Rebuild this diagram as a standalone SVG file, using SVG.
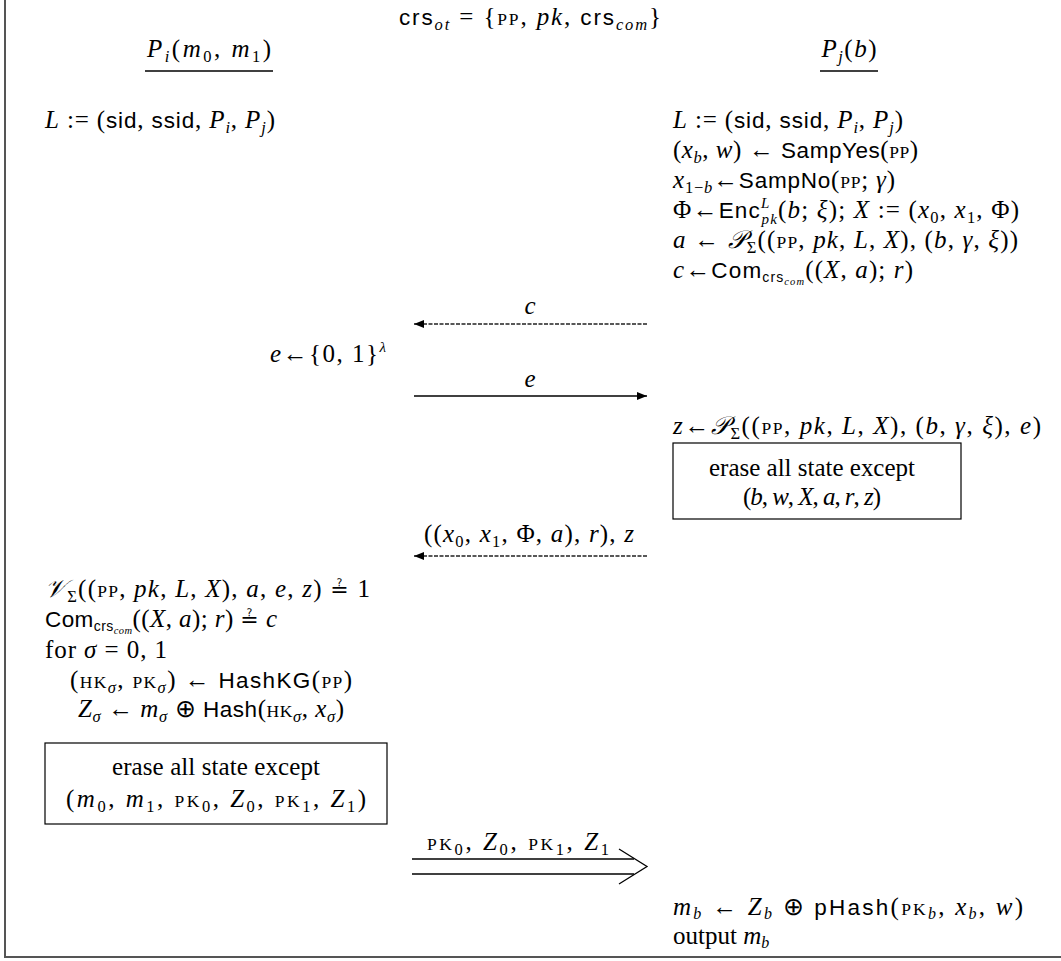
<svg xmlns="http://www.w3.org/2000/svg" width="1061" height="961" viewBox="0 0 1061 961">
<style>
.m{font-family:"Liberation Serif",serif;font-size:25px;fill:#000}
.i{font-style:italic}
.sf{font-family:"Liberation Sans",sans-serif;font-size:22.5px;font-style:normal}
.sc{font-size:17.5px}
.sub{font-size:16.5px;baseline-shift:-5px}
.sbs{font-size:16px;baseline-shift:-4px}
.sup{font-size:15px;baseline-shift:10px}
.sub2{font-size:15px;baseline-shift:-6px}
.csub{font-family:"Liberation Sans",sans-serif;font-size:14px;baseline-shift:-4px}
.ccom{font-size:10.5px;font-style:italic;baseline-shift:-6.5px}
.qe{font-family:"DejaVu Sans",sans-serif;font-size:22px}
.cal{font-family:"DejaVu Serif",serif;font-style:italic}
.ln{stroke:#000;stroke-width:1.3;fill:none}
.dash{stroke:#222;stroke-width:1.3;stroke-dasharray:4 1.5;fill:none}
.box{stroke:#000;stroke-width:1.2;fill:none}
</style>
<defs>
<marker id="ah" viewBox="0 0 10 8" refX="10" refY="4" markerWidth="10" markerHeight="8" markerUnits="userSpaceOnUse" orient="auto">
<path d="M0,0 L10,4 L0,8 Z" fill="#000"/>
</marker>
</defs>

<g id="frame">
<line x1="5" y1="0" x2="5" y2="958" stroke="#555" stroke-width="2"/>
<line x1="4" y1="957" x2="1061" y2="957" stroke="#555" stroke-width="2"/>
</g>

<g id="title">
<text class="m" x="530" y="25" text-anchor="middle" textLength="262" lengthAdjust="spacing"><tspan class="sf">crs</tspan><tspan class="i sub">ot</tspan> = {<tspan class="sc">PP</tspan>, <tspan class="i">pk</tspan>, <tspan class="sf">crs</tspan><tspan class="i sub">com</tspan>}</text>
</g>

<g id="party-i">
<text class="m" x="209" y="57" text-anchor="middle" textLength="124" lengthAdjust="spacing"><tspan class="i">P</tspan><tspan class="i sub">i</tspan>(<tspan class="i">m</tspan><tspan class="sub">0</tspan>, <tspan class="i">m</tspan><tspan class="sub">1</tspan>)</text>
<line x1="145" y1="71" x2="273" y2="71" class="ln"/>
</g>

<g id="party-j">
<text class="m" x="849" y="57" text-anchor="middle" textLength="55" lengthAdjust="spacing"><tspan class="i">P</tspan><tspan class="i sub">j</tspan>(<tspan class="i">b</tspan>)</text>
<line x1="820" y1="71" x2="878" y2="71" class="ln"/>
</g>

<g id="left-init">
<text class="m" x="45" y="128" textLength="230" lengthAdjust="spacing"><tspan class="i">L</tspan> := (<tspan class="sf">sid</tspan>, <tspan class="sf">ssid</tspan>, <tspan class="i">P</tspan><tspan class="i sub">i</tspan>, <tspan class="i">P</tspan><tspan class="i sub">j</tspan>)</text>
</g>

<g id="right-init">
<text class="m" x="673" y="128" textLength="230" lengthAdjust="spacing"><tspan class="i">L</tspan> := (<tspan class="sf">sid</tspan>, <tspan class="sf">ssid</tspan>, <tspan class="i">P</tspan><tspan class="i sub">i</tspan>, <tspan class="i">P</tspan><tspan class="i sub">j</tspan>)</text>
<text class="m" x="673" y="158" textLength="245" lengthAdjust="spacing">(<tspan class="i">x</tspan><tspan class="i sub">b</tspan>, <tspan class="i">w</tspan>) ← <tspan class="sf">SampYes</tspan>(<tspan class="sc">PP</tspan>)</text>
<text class="m" x="673" y="188" textLength="222" lengthAdjust="spacing"><tspan class="i">x</tspan><tspan class="sub">1−<tspan class="i">b</tspan></tspan>←<tspan class="sf">SampNo</tspan>(<tspan class="sc">PP</tspan>; <tspan class="i">γ</tspan>)</text>
<text class="m" x="673" y="218" textLength="346" lengthAdjust="spacing">Φ←<tspan class="sf">Enc</tspan><tspan class="i sup">L</tspan><tspan class="i sub2" dx="-9">pk</tspan>(<tspan class="i">b</tspan>; <tspan class="i">ξ</tspan>); <tspan class="i">X</tspan> := (<tspan class="i">x</tspan><tspan class="sub">0</tspan>, <tspan class="i">x</tspan><tspan class="sub">1</tspan>, Φ)</text>
<text class="m" x="673" y="248" textLength="345" lengthAdjust="spacing"><tspan class="i">a</tspan> ← <tspan class="cal">𝒫</tspan><tspan class="sub">Σ</tspan>((<tspan class="sc">PP</tspan>, <tspan class="i">pk</tspan>, <tspan class="i">L</tspan>, <tspan class="i">X</tspan>), (<tspan class="i">b</tspan>, <tspan class="i">γ</tspan>, <tspan class="i">ξ</tspan>))</text>
<text class="m" x="673" y="278" textLength="240" lengthAdjust="spacing"><tspan class="i">c</tspan>←<tspan class="sf">Com</tspan><tspan class="csub">crs</tspan><tspan class="ccom">com</tspan>((<tspan class="i">X</tspan>, <tspan class="i">a</tspan>); <tspan class="i">r</tspan>)</text>
</g>

<g id="left-challenge">
<text class="m" x="270" y="362" textLength="116" lengthAdjust="spacing"><tspan class="i">e</tspan>←{0, 1}<tspan class="i sup">λ</tspan></text>
</g>

<g id="right-response">
<text class="m" x="673" y="434" textLength="368" lengthAdjust="spacing"><tspan class="i">z</tspan>←<tspan class="cal">𝒫</tspan><tspan class="sub">Σ</tspan>((<tspan class="sc">PP</tspan>, <tspan class="i">pk</tspan>, <tspan class="i">L</tspan>, <tspan class="i">X</tspan>), (<tspan class="i">b</tspan>, <tspan class="i">γ</tspan>, <tspan class="i">ξ</tspan>), <tspan class="i">e</tspan>)</text>
</g>

<g id="right-erase">
<rect x="673" y="443" width="288" height="76" class="box"/>
<text class="m" x="812" y="476" text-anchor="middle" textLength="206" lengthAdjust="spacing">erase all state except</text>
<text class="m" x="812" y="505" text-anchor="middle" textLength="138" lengthAdjust="spacing">(<tspan class="i">b</tspan>, <tspan class="i">w</tspan>, <tspan class="i">X</tspan>, <tspan class="i">a</tspan>, <tspan class="i">r</tspan>, <tspan class="i">z</tspan>)</text>
</g>

<g id="left-verify">
<text class="m" x="45" y="597" textLength="325" lengthAdjust="spacing"><tspan class="cal">𝒱</tspan><tspan class="sub">Σ</tspan>((<tspan class="sc">PP</tspan>, <tspan class="i">pk</tspan>, <tspan class="i">L</tspan>, <tspan class="i">X</tspan>), <tspan class="i">a</tspan>, <tspan class="i">e</tspan>, <tspan class="i">z</tspan>) <tspan class="qe">≟</tspan> 1</text>
<text class="m" x="45" y="627" textLength="232" lengthAdjust="spacing"><tspan class="sf">Com</tspan><tspan class="csub">crs</tspan><tspan class="ccom">com</tspan>((<tspan class="i">X</tspan>, <tspan class="i">a</tspan>); <tspan class="i">r</tspan>) <tspan class="qe">≟</tspan> <tspan class="i">c</tspan></text>
<text class="m" x="45" y="658" textLength="122" lengthAdjust="spacing">for <tspan class="i">σ</tspan> = 0, 1</text>
<text class="m" x="211" y="688" text-anchor="middle" textLength="282" lengthAdjust="spacing">(<tspan class="sc">HK</tspan><tspan class="i sub">σ</tspan>, <tspan class="sc">PK</tspan><tspan class="i sub">σ</tspan>) ← <tspan class="sf">HashKG</tspan>(<tspan class="sc">PP</tspan>)</text>
<text class="m" x="211" y="717" text-anchor="middle" textLength="266" lengthAdjust="spacing"><tspan class="i">Z</tspan><tspan class="i sub">σ</tspan> ← <tspan class="i">m</tspan><tspan class="i sub">σ</tspan> ⊕ <tspan class="sf">Hash</tspan>(<tspan class="sc">HK</tspan><tspan class="i sub">σ</tspan>, <tspan class="i">x</tspan><tspan class="i sub">σ</tspan>)</text>
</g>

<g id="left-erase">
<rect x="45" y="743" width="342" height="81" class="box"/>
<text class="m" x="216" y="775" text-anchor="middle" textLength="208" lengthAdjust="spacing">erase all state except</text>
<text class="m" x="216" y="807" text-anchor="middle" textLength="300" lengthAdjust="spacing">(<tspan class="i">m</tspan><tspan class="sub">0</tspan>, <tspan class="i">m</tspan><tspan class="sub">1</tspan>, <tspan class="sc">PK</tspan><tspan class="sub">0</tspan>, <tspan class="i">Z</tspan><tspan class="sub">0</tspan>, <tspan class="sc">PK</tspan><tspan class="sub">1</tspan>, <tspan class="i">Z</tspan><tspan class="sub">1</tspan>)</text>
</g>

<g id="right-output">
<text class="m" x="673" y="915" textLength="350" lengthAdjust="spacing"><tspan class="i">m</tspan><tspan class="i sbs">b</tspan> ← <tspan class="i">Z</tspan><tspan class="i sbs">b</tspan> ⊕ <tspan class="sf">pHash</tspan>(<tspan class="sc">PK</tspan><tspan class="i sbs">b</tspan>, <tspan class="i">x</tspan><tspan class="i sbs">b</tspan>, <tspan class="i">w</tspan>)</text>
<text class="m" x="673" y="944">output <tspan class="i">m</tspan><tspan class="i sbs">b</tspan></text>
</g>

<g id="connectors">
<line x1="647" y1="324" x2="414" y2="324" class="dash" marker-end="url(#ah)"/>
<text class="m i" x="530" y="314" text-anchor="middle">c</text>
<line x1="414" y1="396" x2="647" y2="396" class="ln" marker-end="url(#ah)"/>
<text class="m i" x="530" y="387" text-anchor="middle">e</text>
<line x1="647" y1="556" x2="414" y2="556" class="dash" marker-end="url(#ah)"/>
<text class="m" x="529" y="542" text-anchor="middle" textLength="210" lengthAdjust="spacing">((<tspan class="i">x</tspan><tspan class="sub">0</tspan>, <tspan class="i">x</tspan><tspan class="sub">1</tspan>, Φ, <tspan class="i">a</tspan>), <tspan class="i">r</tspan>), <tspan class="i">z</tspan></text>
<line x1="412" y1="859" x2="634" y2="859" class="ln"/>
<line x1="412" y1="874" x2="634" y2="874" class="ln"/>
<polyline points="619,849 647,866.5 619,884" class="ln"/>
<text class="m" x="518" y="850" text-anchor="middle" textLength="182" lengthAdjust="spacing"><tspan class="sc">PK</tspan><tspan class="sub">0</tspan>, <tspan class="i">Z</tspan><tspan class="sub">0</tspan>, <tspan class="sc">PK</tspan><tspan class="sub">1</tspan>, <tspan class="i">Z</tspan><tspan class="sub">1</tspan></text>
</g>
</svg>
